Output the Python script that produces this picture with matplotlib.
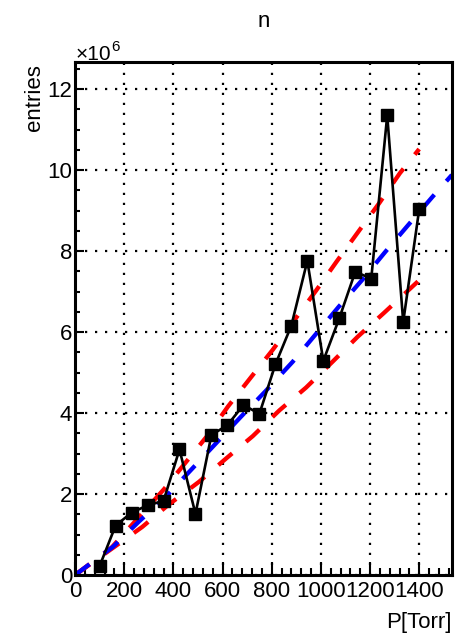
import matplotlib
matplotlib.use("Agg")
import matplotlib.pyplot as plt
from matplotlib.ticker import MultipleLocator

plt.rcParams['font.family'] = ['Liberation Sans', 'DejaVu Sans']

# measured counts vs. pressure
pressure = [100, 165, 230, 295, 360, 425, 490, 555, 620, 685, 750,
            815, 880, 945, 1010, 1075, 1140, 1205, 1270, 1335, 1400]
entries = [0.22e6, 1.22e6, 1.54e6, 1.72e6, 1.83e6, 3.10e6, 1.51e6, 3.46e6,
           3.70e6, 4.20e6, 3.98e6, 5.20e6, 6.16e6, 7.76e6, 5.29e6, 6.34e6,
           7.49e6, 7.32e6, 11.35e6, 6.25e6, 9.03e6]

# fitted curve (blue) and its upper / lower bands (red)
fit_x = [0, 155, 260, 369, 672, 775, 886, 1072, 1167, 1262, 1352, 1454, 1533]
fit_y = [0, 0.70e6, 1.32e6, 1.93e6, 3.89e6, 4.54e6, 5.27e6, 6.62e6, 7.28e6,
         7.98e6, 8.62e6, 9.34e6, 9.88e6]
up_x = [0, 149, 362, 537, 622, 714, 804, 980, 1064, 1149, 1237, 1321, 1400]
up_y = [0, 0.68e6, 2.12e6, 3.43e6, 4.16e6, 4.87e6, 5.56e6, 7.02e6, 7.74e6,
        8.45e6, 9.18e6, 9.92e6, 10.52e6]
lo_x = [0, 274, 379, 504, 615, 723, 832, 940, 1048, 1149, 1258, 1400]
lo_y = [0, 1.19e6, 1.73e6, 2.30e6, 2.88e6, 3.43e6, 4.07e6, 4.63e6, 5.27e6,
        5.88e6, 6.48e6, 7.28e6]

fig = plt.figure(figsize=(4.63, 6.37), dpi=100)
ax = fig.add_axes([0.162, 0.0973, 0.814, 0.8054])

dash = dict(lw=3.1, dashes=(4.2, 4.2), dash_capstyle='butt')
ax.plot(up_x, up_y, color='#ff0000', **dash)
ax.plot(lo_x, lo_y, color='#ff0000', **dash)
ax.plot(fit_x, fit_y, color='#0000ff', **dash)
ax.plot(pressure, entries, color='black', lw=1.9, marker='s', ms=8)

ax.set_xlim(0, 1533)
ax.set_ylim(0, 12.67e6)
ax.xaxis.set_major_locator(MultipleLocator(200))
ax.xaxis.set_minor_locator(MultipleLocator(40))
ax.yaxis.set_major_locator(MultipleLocator(2e6))
ax.yaxis.set_minor_locator(MultipleLocator(0.5e6))
ax.ticklabel_format(axis='y', style='sci', scilimits=(6, 6))
ax.yaxis.get_offset_text().set_visible(False)

# exponent label above the y axis
t10 = ax.annotate('×10', xy=(0, 1), xycoords='axes fraction', xytext=(0.3, 1.2),
                  textcoords='offset points', ha='left', va='baseline', fontsize=15)
ax.annotate('6', xy=(1, 1), xycoords=t10, xytext=(0.3, 3.5),
            textcoords='offset points', ha='left', va='top', fontsize=11)

ax.grid(True, which='major', color='black', lw=1.6, linestyle=(0, (1, 3.5)))

ax.tick_params(which='both', direction='in', top=False, right=False,
               labelsize=16, width=1.5)
ax.tick_params(axis='x', which='major', length=9.4, pad=4)
ax.tick_params(axis='x', which='minor', length=4.7)
ax.tick_params(axis='y', which='major', length=6.5, pad=2)
ax.tick_params(axis='y', which='minor', length=3.6)
for s in ax.spines.values():
    s.set_linewidth(2.2)

ax.set_xlabel('P[Torr]', fontsize=16, ha='right', va='center')
ax.xaxis.set_label_coords(1.0, -0.092)
ax.set_ylabel('entries', fontsize=16, loc='top')
ax.yaxis.set_label_coords(-0.08, 0.995)

fig.text(0.569, (637 - 27) / 637, 'n', ha='center', va='baseline', fontsize=16)

fig.savefig('out.png', dpi=100)
